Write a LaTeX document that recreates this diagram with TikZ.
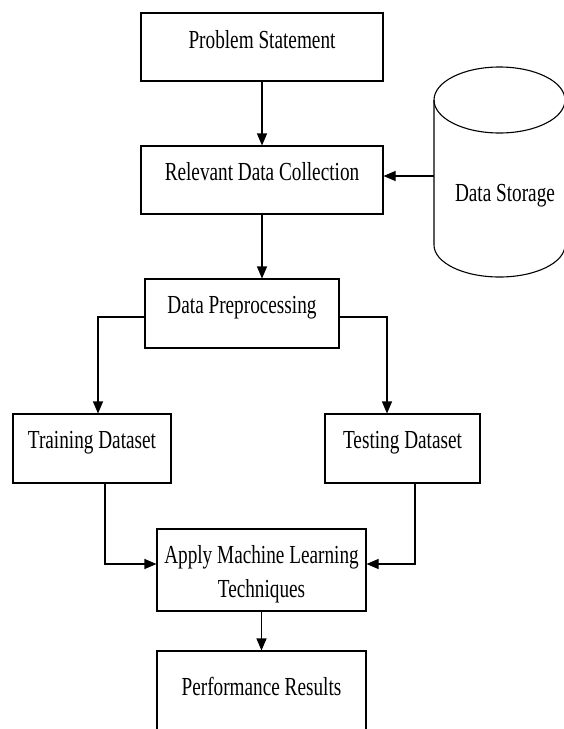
\documentclass[tikz,border=0pt]{standalone}
\usepackage{fontspec}
\setmainfont{Liberation Serif}[FakeStretch=0.74]
\usetikzlibrary{arrows.meta,calc}
% text whose baseline sits on the node centre
\newcommand{\onbase}[2][0pt]{\raisebox{#1}[0pt][0pt]{#2}}
\tikzset{
  box/.style={draw, line width=1.1pt, rectangle, inner sep=0pt, align=center,
    font=\fontsize{26}{34}\selectfont},
  arr/.style={draw, line width=1.1pt, -{Triangle[length=12pt,width=10pt]}},
  lbl/.style={inner sep=0pt, font=\fontsize{26}{34}\selectfont}
}
\begin{document}
\begin{tikzpicture}[x=1pt, y={(0,-1pt)}]
  \useasboundingbox (0,0) rectangle (563,729);

  % process boxes
  \node[box, minimum width=242pt, minimum height=68pt] (ps) at (262,47)
    {\onbase[-1pt]{Problem Statement}};
  \node[box, minimum width=242pt, minimum height=68pt] (rdc) at (262,180)
    {\onbase{Relevant Data Collection}};
  \node[box, minimum width=194pt, minimum height=69pt] (dp) at (242,313.5)
    {\onbase{Data Preprocessing}};
  \node[box, minimum width=158pt, minimum height=69pt] (tr) at (92,448.5)
    {\onbase{Training Dataset}};
  \node[box, minimum width=155pt, minimum height=69pt] (te) at (402.5,448.5)
    {\onbase{Testing Dataset}};
  \node[box, minimum width=209pt, minimum height=82pt] (ml) at (261.5,570)
    {\onbase[-27pt]{\begin{tabular}[b]{@{}c@{}}Apply Machine Learning\\Techniques\end{tabular}}};
  \node[box, minimum width=209pt, minimum height=94pt] (pr) at (261.5,698)
    {\onbase[3pt]{Performance Results}};

  % data storage cylinder
  \draw[line width=1.1pt] (499.5,100) ellipse[x radius=65.5, y radius=33];
  \draw[line width=1.1pt] (434,100) -- (434,245)
    arc[start angle=180, end angle=0, x radius=65.5, y radius=32]
    -- (565,100);
  \node[lbl, anchor=base] (dslbl) at (505,201.5) {Data Storage};
  \coordinate (ds) at (434,176);

  % connectors
  \draw[arr] (ps) -- (rdc);
  \draw[arr] (ds) -- (ds -| rdc.east);
  \draw[arr] (rdc.south) -- (rdc.south |- dp.north);
  \draw[arr] ($(dp.west)+(0,3.5)$) -| ([xshift=6pt]tr.north);
  \draw[arr] ($(dp.east)+(0,3.5)$) -| ([xshift=-15.5pt]te.north);
  \draw[arr] ([xshift=13pt]tr.south) |- ($(ml.west)+(0,-6)$);
  \draw[arr] ([xshift=12.5pt]te.south) |- ($(ml.east)+(0,-6)$);
  \draw[arr] (ml) -- (pr);
\end{tikzpicture}
\end{document}
